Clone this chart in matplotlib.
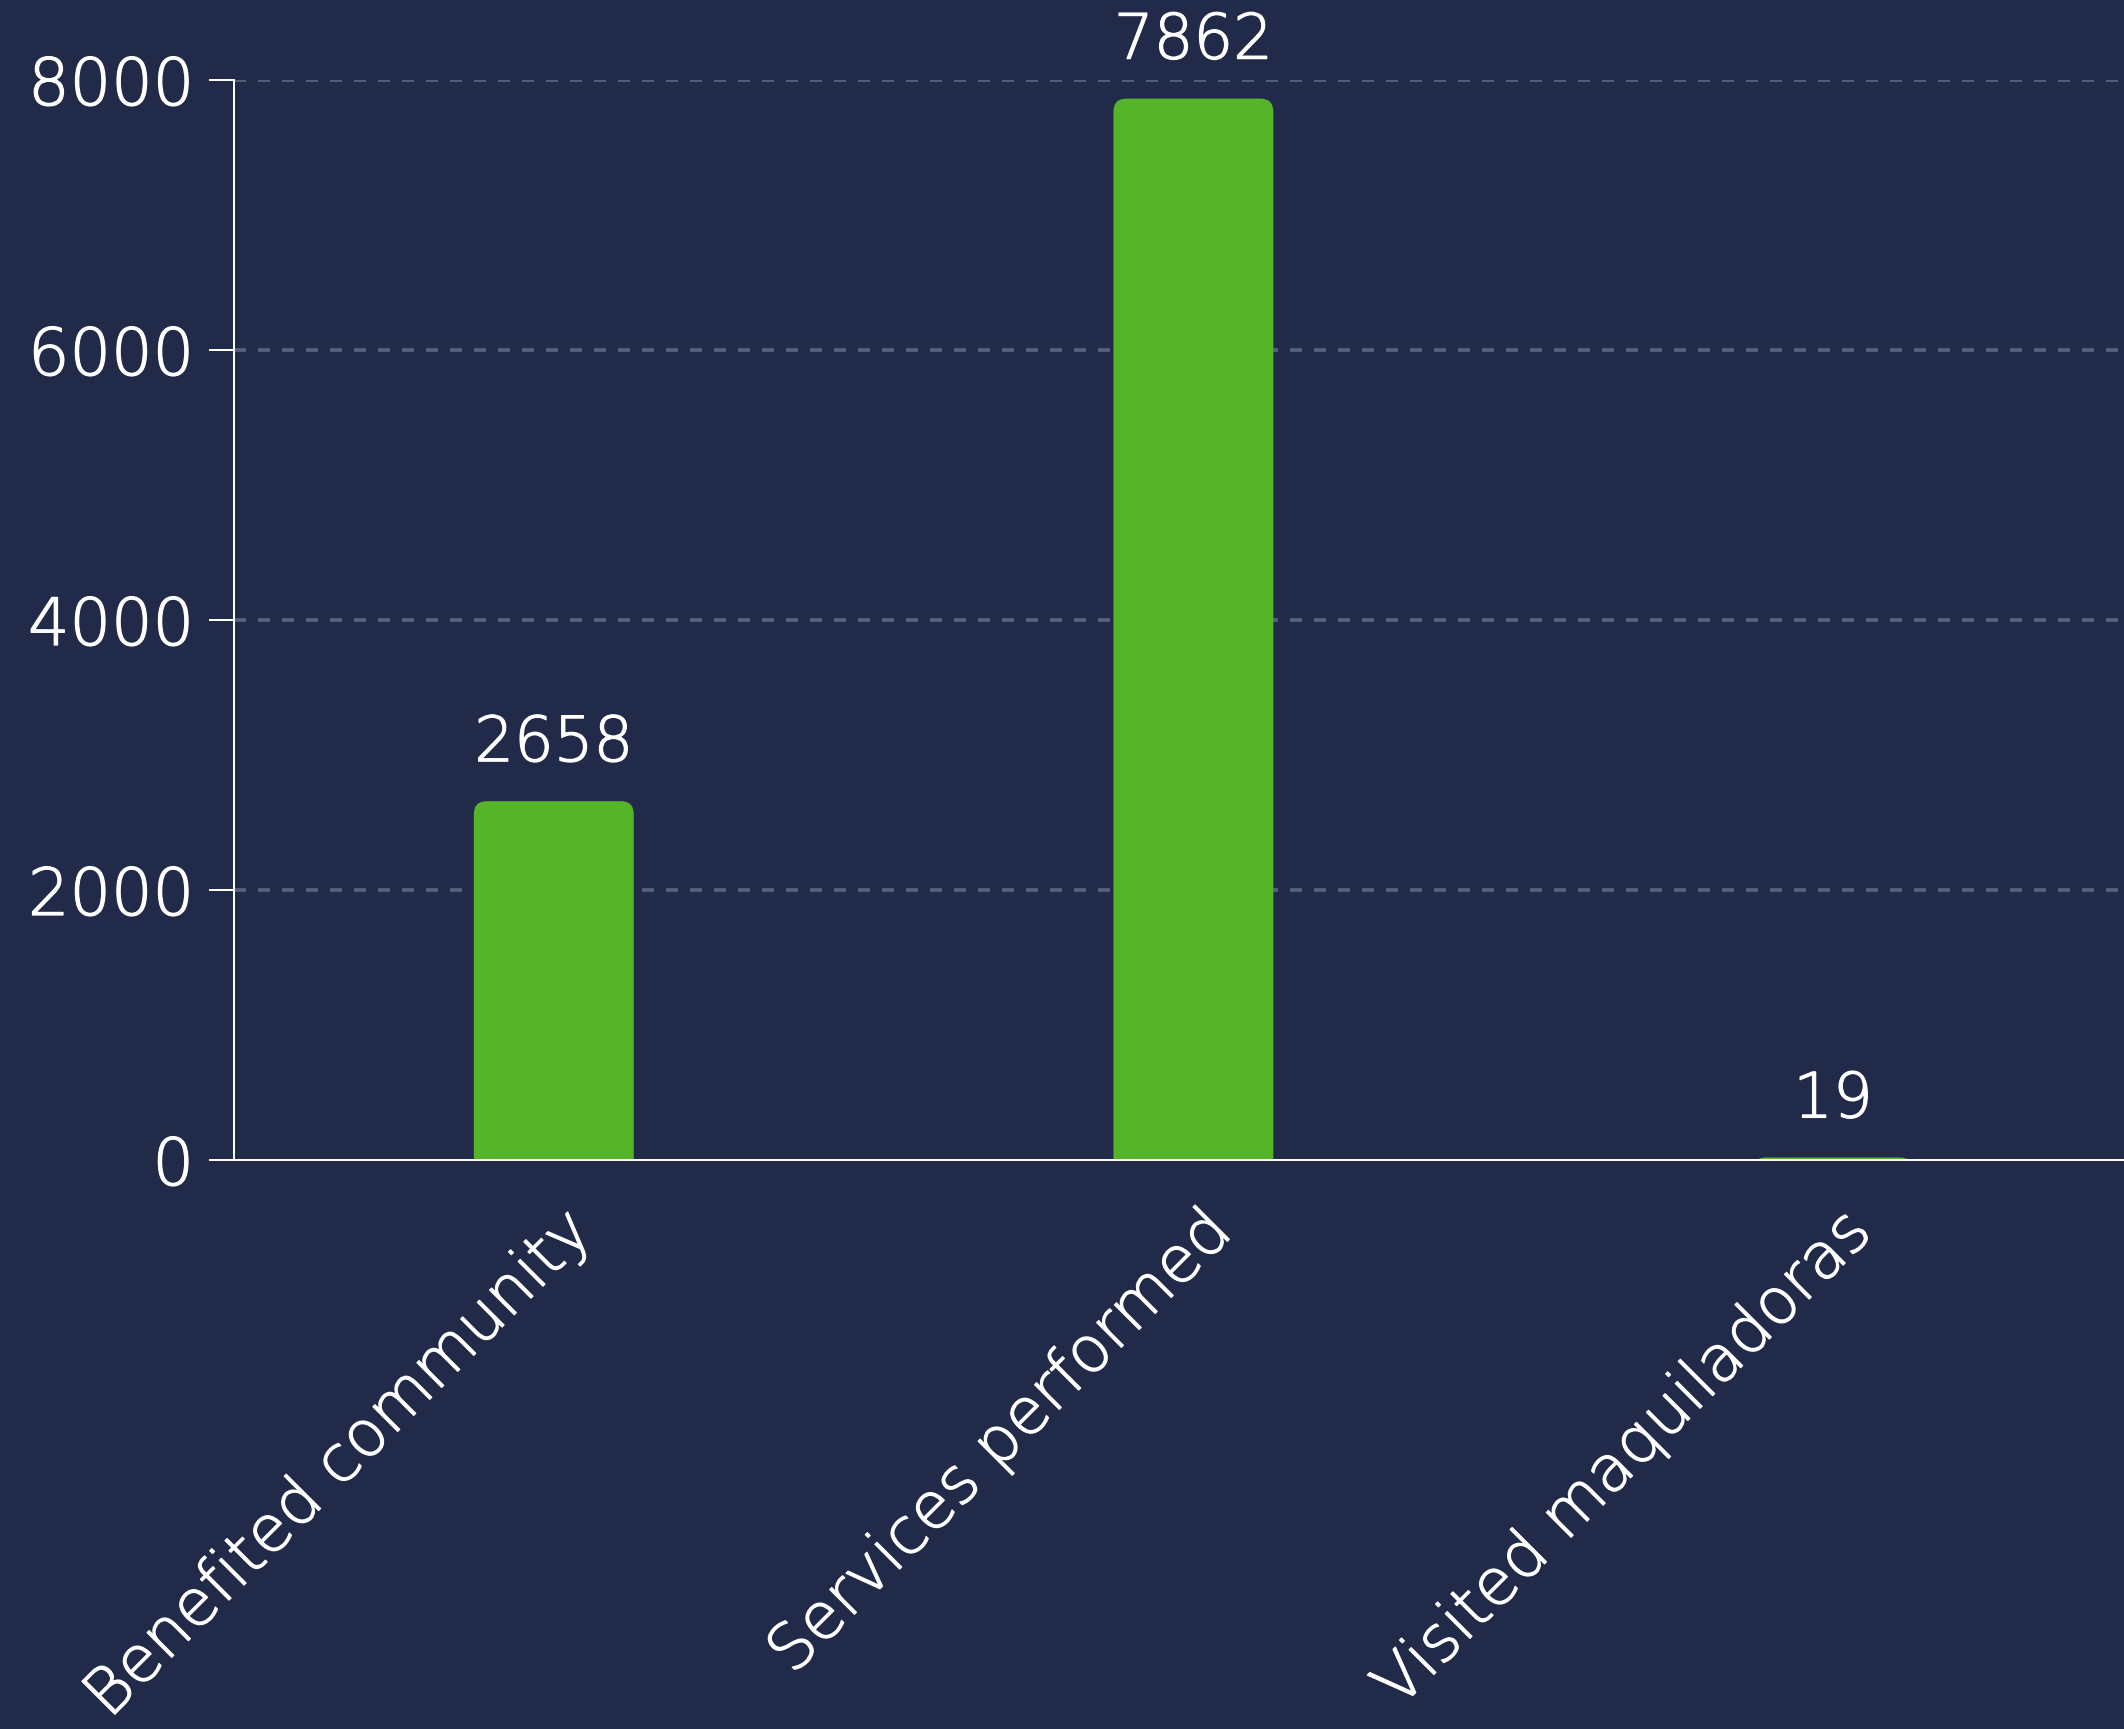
import matplotlib
matplotlib.use("Agg")
import matplotlib.pyplot as plt
import matplotlib.patheffects as pe
from matplotlib.patches import FancyBboxPatch
from matplotlib.transforms import ScaledTranslation

categories = ["Benefited community", "Services performed", "Visited maquiladoras"]
values = [2658, 7862, 19]
yticks = [0, 2000, 4000, 6000, 8000]

BG = "#212a48"
GREEN = "#56b428"
GRID = "#56607b"
WHITE = "#ffffff"

plt.rcParams['font.family'] = ['DejaVu Sans']
plt.rcParams['font.weight'] = 'light'

W, H = 2124, 1729
DPI = 100
fig = plt.figure(figsize=(W / DPI, H / DPI), dpi=DPI, facecolor=BG)
ax = fig.add_axes([234 / W, 1 - 1160 / H, 1 - 234 / W, (1160 - 80) / H])
ax.set_facecolor(BG)

x = list(range(len(categories)))
bars = ax.bar(x, values, width=0.25, color=GREEN, zorder=3)
ax.set_xlim(-0.5, 2.455)
ax.set_ylim(0, 8000)

# rounded top corners
fig.canvas.draw()
inv = ax.transData.inverted()
p0 = inv.transform((0, 0))
p1 = inv.transform((1, 1))
dx_px = p1[0] - p0[0]
dy_px = p1[1] - p0[1]
r_px = 13
rx = r_px * dx_px
aspect = dy_px / dx_px
ry = rx * aspect
for b in bars:
    b.set_visible(False)
    bx, bw, bh = b.get_x(), b.get_width(), b.get_height()
    fp = FancyBboxPatch((bx, -ry), bw, bh + ry,
                        boxstyle=f"round,pad=0,rounding_size={rx}",
                        mutation_aspect=aspect, facecolor=GREEN,
                        edgecolor="none", zorder=3, clip_on=True)
    ax.add_patch(fp)

thick = [pe.withStroke(linewidth=0.9, foreground=WHITE)]

# value labels
for xi, v in zip(x, values):
    t = ax.annotate(f"{v}", (xi, v), xytext=(0, 40 * 72 / DPI), textcoords="offset points",
                    ha="center", va="baseline", color=WHITE, fontsize=45, zorder=4)
    t.set_path_effects(thick)

# axes styling
for s in ["top", "right"]:
    ax.spines[s].set_visible(False)
for s in ["left", "bottom"]:
    ax.spines[s].set_color(WHITE)
    ax.spines[s].set_linewidth(2 * 72 / DPI)
    ax.spines[s].set_zorder(5)

ax.set_yticks(yticks)
ax.set_yticklabels([str(t) for t in yticks])
ax.tick_params(axis="y", colors=WHITE, labelcolor=WHITE, labelsize=47,
               length=25 * 72 / DPI, width=2 * 72 / DPI, pad=15 * 72 / DPI)
ax.yaxis.grid(True, color=GRID, linewidth=2.7, linestyle=(0, (3.2, 3.2)), zorder=0)
ax.set_axisbelow(True)
ax.yaxis.get_gridlines()[0].set_visible(False)

ax.set_xticks(x)
ax.set_xticklabels(categories, rotation=45, ha="right", va="top",
                   rotation_mode="anchor")
ax.tick_params(axis="x", length=0, labelcolor=WHITE, labelsize=46, pad=40 * 72 / DPI)
offset = ScaledTranslation(6 / DPI, 0, fig.dpi_scale_trans)
for lab in ax.get_xticklabels():
    lab.set_transform(lab.get_transform() + offset)
    lab.set_path_effects(thick)
for lab in ax.get_yticklabels():
    lab.set_path_effects(thick)

fig.savefig("out.png", dpi=DPI, facecolor=BG)
